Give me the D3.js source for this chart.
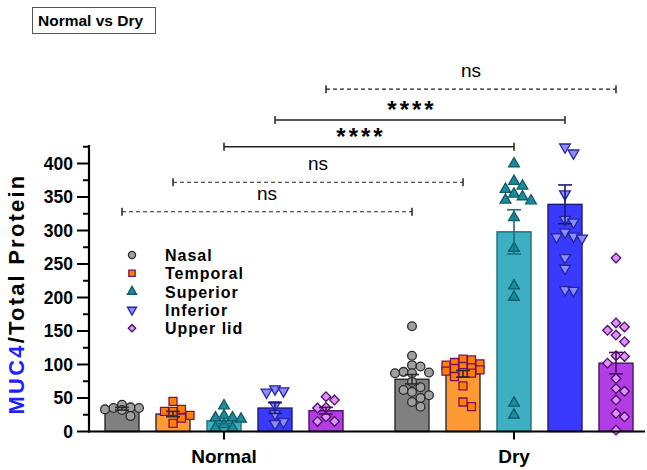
<!DOCTYPE html>
<html><head><meta charset="utf-8">
<script src="https://cdn.jsdelivr.net/npm/d3@7"></script>
<style>body{margin:0;background:#fff} text{font-family: Arial, "Liberation Sans", sans-serif}</style>
</head><body><svg id="c" width="647" height="470"></svg>
<script>
const groups = ["Normal", "Dry"];
const categories = ["Nasal", "Temporal", "Superior", "Inferior", "Upper lid"];
const normalMeans = [34, 26, 16, 35, 31];
const normalSEM = [2, 4, 4, 8, 5];
const dryMeans = [78, 86, 298, 339, 102];
const drySEM = [7, 5, 33, 29, 16];
const normalPoints = [
  [36, 32, 35, 40, 35, 23, 33],
  [45, 30, 30, 33, 24, 20, 12],
  [40, 22, 20, 22, 25, 7, 7, 12],
  [59, 57, 62, 38, 25, 10, 13],
  [52, 47, 36, 35, 22, 15, 15]
];
const dryPoints = [
  [157, 113, 97, 99, 89, 87, 87, 88, 74, 66, 62, 59, 54, 50, 44, 37],
  [101, 107, 108, 99, 88, 92, 94, 97, 82, 87, 68, 44, 37, 103, 95, 90],
  [401, 368, 363, 375, 347, 352, 346, 356, 321, 275, 219, 202, 44, 26],
  [423, 414, 353, 315, 311, 290, 287, 289, 296, 258, 242, 209, 210],
  [259, 151, 156, 162, 134, 144, 113, 112, 102, 79, 60, 64, 47, 22, 27, 2]
];
const yTicks = [0, 50, 100, 150, 200, 250, 300, 350, 400];
const compCategories = ["Nasal", "Temporal", "Superior", "Inferior", "Upper lid"];
const compLabels = ["ns", "ns", "****", "****", "ns"];
const compLevels = [328, 372, 425, 465, 511];

const barFill = ["#808080", "#ff9933", "#3cb0c2", "#3a3aff", "#b23ce6"];
const barStroke = ["#2b2b2b", "#2b2b2b", "#1d6f7c", "#1a1a7a", "#4a1060"];
const ptFill = ["#a0a0a0", "#ff8000", "#1a8c9c", "#8c8cff", "#e090ff"];
const ptStroke = ["#2b2b2b", "#7a1060", "#0e5a66", "#2424a0", "#4a1060"];

const svg = d3.select("#c");
const y = d3.scaleLinear().domain([0, 400]).range([431.5, 163.5]);
const xg = d3.scalePoint().domain(groups).range([224, 514]);
const xc = d3.scaleBand().domain(categories).range([-127.5, 127.5]).paddingInner(1/3).paddingOuter(1/6);
const bw = xc.bandwidth();
const cx = (g, c) => xg(g) + xc(c) + bw / 2;

const symTypes = [
  d3.symbol().type(d3.symbolCircle).size(60),
  d3.symbol().type(d3.symbolSquare).size(64),
  d3.symbol().type(d3.symbolTriangle).size(50),
  d3.symbol().type(d3.symbolTriangle).size(50),
  d3.symbol().type(d3.symbolSquare).size(46)
];
const symRot = [0, 0, 0, 180, 45];
const legSym = [
  d3.symbol().type(d3.symbolCircle).size(40),
  d3.symbol().type(d3.symbolSquare).size(40),
  d3.symbol().type(d3.symbolTriangle).size(36),
  d3.symbol().type(d3.symbolTriangle).size(36),
  d3.symbol().type(d3.symbolSquare).size(28)
];

svg.append("rect").attr("x", 32.5).attr("y", 7.5).attr("width", 123).attr("height", 26)
  .attr("fill", "#fff").attr("stroke", "#555").attr("stroke-width", 1);
svg.append("text").attr("x", 38).attr("y", 26).attr("font-size", 15.5).attr("font-weight", "bold").text("Normal vs Dry");

const data = [
  {g: "Normal", means: normalMeans, sem: normalSEM, pts: normalPoints},
  {g: "Dry", means: dryMeans, sem: drySEM, pts: dryPoints}
];
data.forEach(d => {
  categories.forEach((c, i) => {
    const x0 = xg(d.g) + xc(c);
    svg.append("rect").attr("x", x0).attr("y", y(d.means[i])).attr("width", bw)
      .attr("height", y(0) - y(d.means[i])).attr("fill", barFill[i])
      .attr("stroke", barStroke[i]).attr("stroke-width", 1.4);
  });
});
data.forEach(d => {
  categories.forEach((c, i) => {
    const x = cx(d.g, c);
    const vals = d.pts[i].slice().sort((a, b) => b - a);
    const placed = [];
    const step = 8.5, minD = 8.5;
    vals.forEach(v => {
      const py = y(v);
      const ks = [0, 1, -1, 2, -2];
      let best = null, bestD = -1;
      for (const k of ks) {
        const tx = x + k * step;
        const dmin = placed.length ? d3.min(placed, p => Math.hypot(p[0] - tx, p[1] - py)) : Infinity;
        if (dmin >= minD) { best = tx; break; }
        if (dmin > bestD) { bestD = dmin; best = tx; }
      }
      placed.push([best, py]);
    });
    placed.forEach(p => {
      svg.append("path").attr("d", symTypes[i]())
        .attr("transform", `translate(${p[0]},${p[1] + (i === 2 ? 1 : i === 3 ? -1 : 0)}) rotate(${symRot[i]})`)
        .attr("fill", ptFill[i]).attr("stroke", ptStroke[i]).attr("stroke-width", 1.3);
    });
  });
});
data.forEach(d => {
  categories.forEach((c, i) => {
    const x = cx(d.g, c);
    const m = d.means[i], s = d.sem[i];
    const col = barStroke[i];
    svg.append("line").attr("x1", x).attr("x2", x).attr("y1", y(m - s)).attr("y2", y(m + s))
      .attr("stroke", col).attr("stroke-width", 1.6);
    [m - s, m + s].forEach(v => {
      svg.append("line").attr("x1", x - 7).attr("x2", x + 7).attr("y1", y(v)).attr("y2", y(v))
        .attr("stroke", col).attr("stroke-width", 1.6);
    });
  });
});

const yAxisG = svg.append("g").attr("transform", "translate(89,0)");
yAxisG.append("line").attr("x1", 0).attr("x2", 0).attr("y1", y(0) + 1).attr("y2", 145)
  .attr("stroke", "#000").attr("stroke-width", 2.2);
d3.range(0, 426, 25).forEach(v => {
  const major = v % 50 === 0;
  yAxisG.append("line").attr("x1", major ? -12 : -6).attr("x2", 0).attr("y1", y(v)).attr("y2", y(v))
    .attr("stroke", "#000").attr("stroke-width", 2);
});
yTicks.forEach(v => {
  yAxisG.append("text").attr("x", -16).attr("y", y(v) + 6).attr("text-anchor", "end")
    .attr("font-size", 17.5).attr("font-weight", "bold").text(v);
});

svg.append("line").attr("x1", 88).attr("x2", 645).attr("y1", y(0)).attr("y2", y(0))
  .attr("stroke", "#000").attr("stroke-width", 2.2);
groups.forEach(g => {
  svg.append("line").attr("x1", xg(g)).attr("x2", xg(g)).attr("y1", y(0)).attr("y2", y(0) + 8)
    .attr("stroke", "#000").attr("stroke-width", 2);
  svg.append("text").attr("x", xg(g)).attr("y", 463).attr("text-anchor", "middle")
    .attr("font-size", 19).attr("font-weight", "bold").text(g);
});

const yl = svg.append("text").attr("transform", "translate(24,294) rotate(-90)")
  .attr("text-anchor", "middle").attr("font-size", 22).attr("font-weight", "bold").attr("letter-spacing", 2.2);
yl.append("tspan").attr("fill", "#1f1fff").text("MUC4");
yl.append("tspan").attr("fill", "#000").text("/Total Protein");

categories.forEach((c, i) => {
  const ly = 255 + i * 18.3;
  svg.append("path").attr("d", legSym[i]()).attr("transform", `translate(132,${ly}) rotate(${symRot[i]})`)
    .attr("fill", ptFill[i]).attr("stroke", ptStroke[i]).attr("stroke-width", 1.3);
  svg.append("text").attr("x", 165).attr("y", ly + 6).attr("font-size", 16).attr("font-weight", "bold")
    .attr("letter-spacing", 1).text(c);
});

compCategories.forEach((c, i) => {
  const x1 = cx("Normal", c), x2 = cx("Dry", c), ly = y(compLevels[i]);
  const dashed = compLabels[i] === "ns";
  svg.append("line").attr("x1", x1).attr("x2", x2).attr("y1", ly).attr("y2", ly)
    .attr("stroke", "#222").attr("stroke-width", dashed ? 1.2 : 1.5)
    .attr("stroke-dasharray", dashed ? "4,3" : null);
  [x1, x2].forEach(xx => {
    svg.append("line").attr("x1", xx).attr("x2", xx).attr("y1", ly - 4).attr("y2", ly + 4)
      .attr("stroke", "#222").attr("stroke-width", 1.5);
  });
  if (dashed) {
    svg.append("text").attr("x", (x1 + x2) / 2).attr("y", ly - 12).attr("text-anchor", "middle")
      .attr("font-size", 19).text(compLabels[i]);
  } else {
    svg.append("text").attr("x", (x1 + x2) / 2 - 8).attr("y", ly - 2).attr("text-anchor", "middle")
      .attr("font-size", 24).attr("font-weight", "bold").attr("letter-spacing", 3).text(compLabels[i]);
  }
});
</script></body></html>
